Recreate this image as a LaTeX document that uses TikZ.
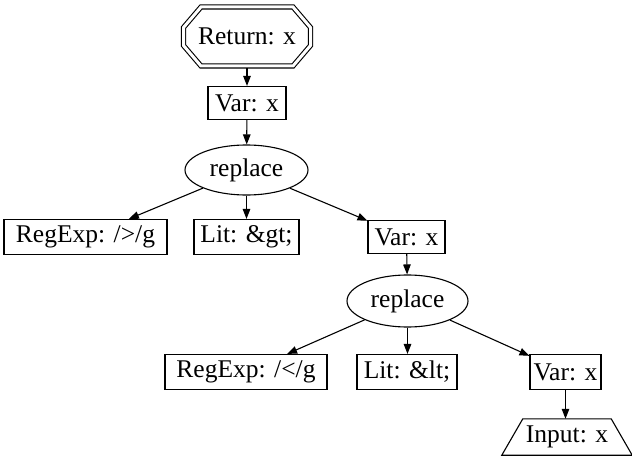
\documentclass[tikz,border=0pt]{standalone}
\usepackage{fontspec}
\setmainfont{Liberation Serif}
\usetikzlibrary{shapes.geometric,arrows.meta}
\begin{document}
\begin{tikzpicture}[x=1pt,y=1pt,
  every node/.style={font=\fontsize{25.5}{29}\selectfont, inner sep=0pt},
  box/.style={draw, rectangle, line width=1.1pt, minimum height=35},
  oval/.style={draw, ellipse, line width=1.1pt},
  outline/.style={line width=1.1pt},
  edge/.style={-{Triangle[length=10pt,width=7.5pt]}, line width=1.1pt},
]
\useasboundingbox (0,0) rectangle (632,459);

% Return: x (double octagon)
\node[minimum width=131, minimum height=63] (ret) at (247,422.5) {Return: x};
\draw[outline, double, double distance=3pt, shift={(ret.center)}]
  (-46,29.5) -- (46,29.5) -- (63.5,9) -- (63.5,-9) -- (46,-29.5)
  -- (-46,-29.5) -- (-63.5,-9) -- (-63.5,9) -- cycle;

\node[box, minimum width=78, minimum height=33] (var1) at (247,356) {Var: x};
\node[oval, minimum width=123, minimum height=50] (rep1) at (246.5,289) {replace};
\node[box, minimum width=163] (re1) at (85.5,222) {RegExp: /{>}/g};
\node[box, minimum width=105] (lit1) at (246.5,222) {Lit: \&gt;};
\node[box, minimum width=77, minimum height=33] (var2) at (406.5,222) {Var: x};
\node[oval, minimum width=121, minimum height=52] (rep2) at (407.5,158) {replace};
\node[box, minimum width=162] (re2) at (246,87) {RegExp: /{<}/g};
\node[box, minimum width=100] (lit2) at (407,87) {Lit: \&lt;};
\node[box, minimum width=71] (var3) at (565.5,87) {Var: x};

% Input: x (trapezium)
\node[minimum width=130, minimum height=36] (inp) at (567,22) {Input: x};
\draw[outline] (inp.south west) -- (inp.south east)
  -- ([xshift=-21]inp.north east) -- ([xshift=21]inp.north west) -- cycle;

% edges
\draw[edge] (ret.south -| var1.north) -- (var1.north);
\draw[edge] (var1) -- (rep1);
\draw[edge] (rep1) -- (re1);
\draw[edge] (rep1.south) -- (rep1.south |- lit1.north);
\draw[edge] (rep1) -- (var2);
\draw[edge] (var2) -- (rep2);
\draw[edge] (rep2) -- (re2);
\draw[edge] (rep2.south) -- (rep2.south |- lit2.north);
\draw[edge] (rep2) -- (var3);
\draw[edge] (var3.south) -- (var3.south |- inp.north);
\end{tikzpicture}
\end{document}
